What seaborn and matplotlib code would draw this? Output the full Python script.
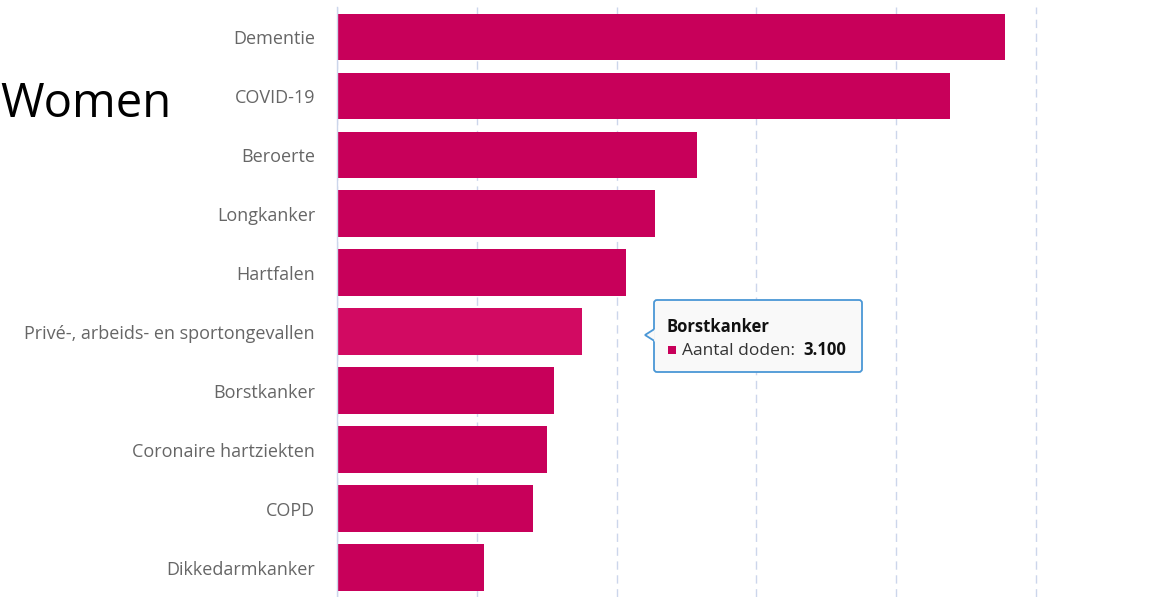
import numpy as np
import pandas as pd
import matplotlib.pyplot as plt
import matplotlib.transforms as mtransforms
from matplotlib.patches import FancyBboxPatch, Polygon, Rectangle
import seaborn as sns

causes = ["Dementie", "COVID-19", "Beroerte", "Longkanker", "Hartfalen",
          "Privé-, arbeids- en sportongevallen", "Borstkanker",
          "Coronaire hartziekten", "COPD", "Dikkedarmkanker"]
deaths = [9550, 8770, 5150, 4550, 4130, 3500, 3100, 3000, 2800, 2100]
highlight = "Privé-, arbeids- en sportongevallen"
tooltip_cause = "Borstkanker"
tooltip_value = "3.100"
grid_ticks = [0, 2000, 4000, 6000, 8000, 10000]

bar_color = "#c8005a"
hover_color = "#d20a62"
grid_color = "#ccd6eb"

sns.set_style("white")
plt.rcParams['font.family'] = ['Open Sans', 'DejaVu Sans']

W, H = 1170, 597
fig = plt.figure(figsize=(W / 100, H / 100), dpi=100)
top_px = 7.3
band_px = 59.38
ax = fig.add_axes([337 / W, 0, 833 / W, (H - top_px) / H])

df = pd.DataFrame({"cause": causes, "deaths": deaths})
palette = {c: (hover_color if c == highlight else bar_color) for c in causes}
sns.barplot(data=df, x="deaths", y="cause", hue="cause", palette=palette,
            legend=False, width=0.787, saturation=1, linewidth=0, ax=ax)

ax.set_xlim(0, 833 / 0.0699)
ax.set_ylim(-0.5 + (H - top_px) / band_px, -0.5)
ax.set_xlabel("")
ax.set_ylabel("")

# vertical dashed grid
ax.set_xticks(grid_ticks)
ax.set_xticklabels([])
ax.tick_params(axis="x", length=0)
ax.xaxis.grid(True, color=grid_color, linestyle=(0, (6, 4)), linewidth=1)
ax.set_axisbelow(True)

# category axis: ticks between bands
ax.tick_params(axis="y", which="major", length=0, pad=15.8,
               labelsize=13, labelcolor="#666666")
ax.set_yticks(np.arange(-0.5, len(causes), 1), minor=True)
ax.tick_params(axis="y", which="minor", length=5, width=1, color=grid_color)
for s in ["top", "right", "bottom"]:
    ax.spines[s].set_visible(False)
ax.spines["left"].set_color(grid_color)
ax.spines["left"].set_linewidth(1)

fig.text(0, 1 - 117 / H, "Women", fontsize=34, color="black",
         ha="left", va="baseline")

# tooltip (pixel coordinates, y from top)
ident = mtransforms.IdentityTransform()
def py(y):
    return H - y

bg = "#f9f9f9"
edge = "#4a97d6"
box = FancyBboxPatch((654, py(372)), 208, 72,
                     boxstyle="round,pad=0,rounding_size=3",
                     transform=ident, fc=bg, ec=edge, lw=1.3, zorder=10)
fig.patches.append(box)
tri = Polygon([(654.5, py(329)), (645, py(335)), (654.5, py(341))], closed=False,
              transform=ident, fc=bg, ec=edge, lw=1.3, zorder=11)
fig.patches.append(tri)
fig.add_artist(plt.Line2D([654.5, 654.5], [py(330), py(340)], color=bg, lw=2,
                          transform=ident, zorder=12))

fig.text(667, py(332), tooltip_cause, transform=ident, fontsize=12,
         fontweight="bold", color="#111111", va="baseline", zorder=13)
sq = Rectangle((668, py(354)), 8, 8, transform=ident, fc=bar_color, ec="none",
               zorder=13)
fig.patches.append(sq)
t1 = fig.text(682, py(355), "Aantal doden:", transform=ident, fontsize=12.5,
              color="#333333", va="baseline", zorder=13)
fig.text(803, py(355), tooltip_value, transform=ident, fontsize=12,
         fontweight="bold", color="#111111", va="baseline", zorder=13)

fig.savefig("out.png", dpi=100)
